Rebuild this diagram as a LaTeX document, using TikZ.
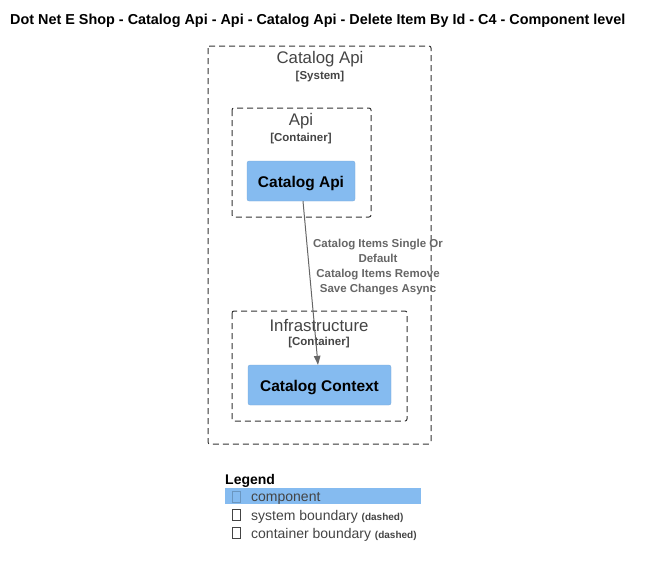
\documentclass[tikz,border=0pt]{standalone}
\usepackage{fontspec}
\setmainfont{Liberation Sans}
\usetikzlibrary{arrows.meta}
\definecolor{compblue}{HTML}{85BBF0}
\definecolor{bndgray}{HTML}{444444}
\definecolor{bndline}{HTML}{333333}
\definecolor{arrgray}{HTML}{666666}
\definecolor{lblgray}{HTML}{666666}
\tikzset{
  px/.style={x=1pt,y=-1pt},
  boundary/.style={draw=bndline, dash pattern=on 6pt off 4pt, rounded corners=2pt, line width=1pt},
  comp/.style={fill=compblue, draw=compblue!90!black, line width=0.3pt, rounded corners=2pt, font=\fontsize{15.5}{18}\selectfont\bfseries, text=black},
  btitle/.style={font=\fontsize{16.8}{19}\selectfont, text=bndgray},
  btype/.style={font=\fontsize{11.5}{14}\selectfont\bfseries, text=bndgray},
  rel/.style={draw=arrgray, line width=1pt, -{Triangle[length=9pt,width=6.5pt]}},
  rellabel/.style={font=\fontsize{11.5}{15}\selectfont\bfseries, text=lblgray, align=center},
  legtext/.style={font=\fontsize{14}{16}\selectfont, text=bndgray, anchor=west, inner sep=0pt},
  tofu/.style={draw=bndgray, line width=0.6pt, minimum width=8pt, minimum height=11pt, inner sep=0pt},
}
\begin{document}
\begin{tikzpicture}[px]
\useasboundingbox (0,0) rectangle (646,566);
% title
\node[font=\fontsize{14.4}{16}\selectfont\bfseries, anchor=west, inner sep=0pt] (title) at (10,21) {Dot Net E Shop - Catalog Api - Api - Catalog Api - Delete Item By Id - C4 - Component level};
% system boundary
\draw[boundary] (208,46) rectangle (431,444);
\node[btitle] (systitle) at (320,59.5) {Catalog Api};
\node[btype] (systype) at (320,77) {[System]};
% api container
\draw[boundary] (232,108) rectangle (371,217);
\node[btitle] (apititle) at (301,121.5) {Api};
\node[btype] (apitype) at (301,139) {[Container]};
\node[comp, minimum width=108pt, minimum height=40pt] (catapi) at (301,181) {};
\node[font=\fontsize{15.5}{18}\selectfont\bfseries] (catapitxt) at (301,184) {Catalog Api};
% infrastructure container
\draw[boundary] (232,311) rectangle (407,421);
\node[btitle] (inftitle) at (319,325.5) {Infrastructure};
\node[btype] (inftype) at (319,343) {[Container]};
\node[comp, minimum width=143pt, minimum height=40pt] (catctx) at (319.5,385) {};
\node[font=\fontsize{15.5}{18}\selectfont\bfseries] (catctxtxt) at (319.5,388) {Catalog Context};
% relation
\draw[rel] (catapi.south -| 303,0) -- (catctx.north -| 318,0);
\node[rellabel] (rl) at (378,267) {Catalog Items Single Or\\Default\\Catalog Items Remove\\Save Changes Async};
% legend
\node[font=\fontsize{14}{16}\selectfont\bfseries, anchor=west, inner sep=0pt] (leg) at (225,481) {Legend};
\fill[compblue] (225,488) rectangle (421,504);
\node[tofu, draw=compblue!80!black] (t1) at (236.5,497) {};
\node[legtext] (l1) at (251,498.5) {component};
\node[tofu] (t2) at (236.5,515) {};
\node[legtext] (l2) at (251,516.5) {system boundary {\fontsize{10}{11}\selectfont\bfseries (dashed)}};
\node[tofu] (t3) at (236.5,533) {};
\node[legtext] (l3) at (251,534.5) {container boundary {\fontsize{10}{11}\selectfont\bfseries (dashed)}};
\end{tikzpicture}
\end{document}
